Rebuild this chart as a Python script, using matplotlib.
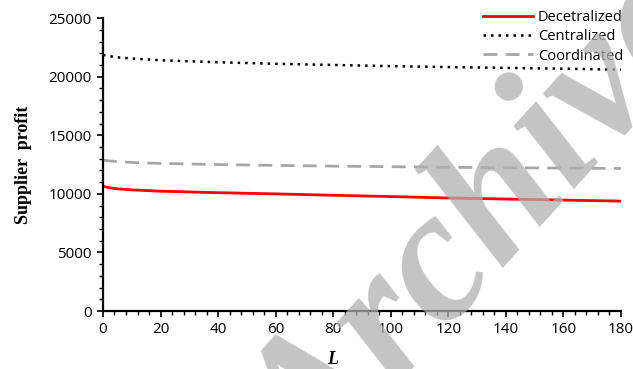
import numpy as np
import matplotlib
matplotlib.use("Agg")
import matplotlib.pyplot as plt
from matplotlib.ticker import MultipleLocator

# values
L_vals = [0, 2, 5, 10, 20, 40, 60, 80, 100, 120, 140, 160, 180]
decentralized = [10650, 10530, 10430, 10340, 10230, 10100, 10000, 9880, 9770, 9650, 9560, 9470, 9380]
centralized = [21850, 21760, 21650, 21550, 21400, 21230, 21100, 21000, 20900, 20820, 20750, 20680, 20600]
coordinated = [12880, 12820, 12750, 12680, 12600, 12500, 12430, 12370, 12320, 12270, 12230, 12200, 12170]

fig = plt.figure(figsize=(6.33, 3.69), dpi=100)
ax = fig.add_axes([0.1627, 0.157, 0.8183, 0.794])

ax.plot(L_vals, decentralized, color='#ff0000', lw=2.0, label='Decetralized')
ax.plot(L_vals, centralized, color='black', lw=1.8, linestyle=(0, (1, 2)), label='Centralized')
ax.plot(L_vals, coordinated, color='#a6a6a6', lw=2.0, linestyle=(0, (5, 3)), label='Coordinated')

ax.set_xlim(0, 180)
ax.set_ylim(0, 25000)
ax.xaxis.set_major_locator(MultipleLocator(20))
ax.xaxis.set_minor_locator(MultipleLocator(4))
ax.yaxis.set_major_locator(MultipleLocator(5000))
ax.yaxis.set_minor_locator(MultipleLocator(1000))

for s in ['top', 'right']:
    ax.spines[s].set_visible(False)
for s in ['left', 'bottom']:
    ax.spines[s].set_linewidth(1.6)

ax.tick_params(axis='both', which='major', direction='out', length=4, width=1.2,
               labelsize=11, pad=4)
ax.tick_params(axis='both', which='minor', direction='out', length=3, width=1.0)
for lab in ax.get_xticklabels() + ax.get_yticklabels():
    lab.set_fontfamily('Open Sans')

ax.set_ylabel('Supplier  profit', fontfamily='Liberation Serif', fontweight='bold',
              fontsize=13, labelpad=12)
ax.set_xlabel('L', fontfamily='Liberation Serif', fontweight='bold', style='italic',
              fontsize=13)
ax.xaxis.set_label_coords(0.444, -0.167)
ax.xaxis.label.set_va('center')

leg = ax.legend(loc='upper right', bbox_to_anchor=(1.015, 1.048), frameon=False,
                prop={'family': 'Open Sans', 'size': 10.5}, handlelength=3.4,
                handletextpad=0.35, labelspacing=0.3, borderaxespad=0)

# watermark
fig.text(0.498, -0.322, 'Archive', fontsize=136, fontfamily='Liberation Serif',
         fontweight='bold', style='italic', color='#b0b0b0', alpha=0.75,
         rotation=48, rotation_mode='anchor', ha='left', va='baseline', zorder=10)

fig.savefig('out.png', dpi=100)
